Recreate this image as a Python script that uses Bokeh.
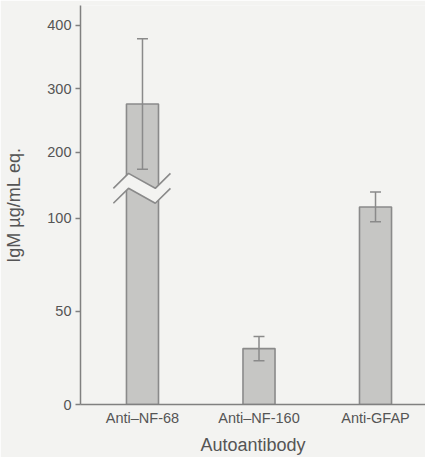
from bokeh.plotting import figure
from bokeh.models import Range1d, FixedTicker, CustomJSTickFormatter
from bokeh.embed import file_html
from bokeh.resources import INLINE

# ---- data ----
categories = ["Anti\u2013NF-68", "Anti\u2013NF-160", "Anti-GFAP"]
igm_mean = [276, 30, 106]
igm_err = [103, 6.5, 8]
y_tick_values = [0, 50, 100, 200, 300, 400]
y_tick_labels = ["0", "50", "100", "200", "300", "400"]

# ---- broken-axis scale ----
LOW_MAX = 115.0      # top of lower segment (data units)
HIGH_MIN = 140.0     # bottom of upper segment (data units)
HIGH_SLOPE = 0.34    # compression of the upper segment
Y_TOP = 214.1


def warp(v):
    if v <= LOW_MAX:
        return float(v)
    return LOW_MAX + (v - HIGH_MIN) * HIGH_SLOPE


BG = "#f3f3f1"
BAR_FILL = "#c6c6c4"
BAR_LINE = "#8a8a8a"
AXIS = "#808080"
TXT = "#555555"
FONT = "Liberation Sans"

xs = [i + 1 for i in range(len(categories))]
tops = [warp(v) for v in igm_mean]
upper = [warp(m + e) for m, e in zip(igm_mean, igm_err)]
lower = [warp(m - e) for m, e in zip(igm_mean, igm_err)]

p = figure(width=425, height=457,
           x_range=Range1d(0.468, 3.429), y_range=Range1d(0, Y_TOP),
           output_backend="svg", toolbar_location=None,
           min_border_left=80, min_border_right=0,
           min_border_top=5, min_border_bottom=52)
p.background_fill_color = BG
p.border_fill_color = BG
p.outline_line_color = None
p.xgrid.grid_line_color = None
p.ygrid.grid_line_color = None

# bars
p.vbar(x=xs, width=0.275, top=tops, bottom=0,
       fill_color=BAR_FILL, line_color=BAR_LINE, line_width=1.6)

# axis break across bars that exceed the lower segment
dx = [-0.25, -0.12, 0.11, 0.24]
amp = [0, 8, 0, 8]
for x, m in zip(xs, igm_mean):
    if m > LOW_MAX:
        ux = [x + d for d in dx]
        uy = [LOW_MAX + 1 + a for a in amp]
        ly = [LOW_MAX - 7 + a for a in amp]
        p.patch(ux + ux[::-1], uy + ly[::-1], fill_color=BG, line_color=None)
        p.line(ux, uy, line_color=BAR_LINE, line_width=1.6)
        p.line(ux, ly, line_color=BAR_LINE, line_width=1.6)

# error bars
cap = 0.047
p.segment(x0=xs, y0=lower, x1=xs, y1=upper, line_color=BAR_LINE, line_width=1.5)
p.segment(x0=[x - cap for x in xs], y0=upper, x1=[x + cap for x in xs], y1=upper,
          line_color=BAR_LINE, line_width=1.5)
p.segment(x0=[x - cap for x in xs], y0=lower, x1=[x + cap for x in xs], y1=lower,
          line_color=BAR_LINE, line_width=1.5)

# x axis
xa = p.xaxis[0]
xa.ticker = FixedTicker(ticks=xs)
xa.major_label_overrides = {x: c for x, c in zip(xs, categories)}
xa.major_tick_line_color = None
xa.major_tick_out = 0
xa.major_tick_in = 0
xa.minor_tick_line_color = None
xa.axis_line_color = AXIS
xa.axis_line_width = 1.5
xa.major_label_standoff = 5
xa.major_label_text_font = FONT
xa.major_label_text_font_size = "14.5px"
xa.major_label_text_color = TXT
xa.axis_label = "Autoantibody"
xa.axis_label_text_font = FONT
xa.axis_label_text_font_size = "18px"
xa.axis_label_text_font_style = "normal"
xa.axis_label_text_color = TXT
xa.axis_label_standoff = 6

# y axis
tick_pos = [warp(v) for v in y_tick_values]
ya = p.yaxis[0]
ya.ticker = FixedTicker(ticks=tick_pos)
ya.formatter = CustomJSTickFormatter(args=dict(pos=tick_pos, labels=y_tick_labels), code="""
let best = 0;
for (let i = 0; i < pos.length; i++) {
  if (Math.abs(pos[i] - tick) < Math.abs(pos[best] - tick)) best = i;
}
return labels[best];
""")
ya.major_tick_out = 5
ya.major_tick_in = 0
ya.major_tick_line_color = AXIS
ya.major_tick_line_width = 1.3
ya.minor_tick_line_color = None
ya.axis_line_color = AXIS
ya.axis_line_width = 1.5
ya.major_label_standoff = 4
ya.major_label_text_font = FONT
ya.major_label_text_font_size = "14.5px"
ya.major_label_text_color = TXT
ya.axis_label = "IgM \u00b5g/mL eq."
ya.axis_label_text_font = FONT
ya.axis_label_text_font_size = "18px"
ya.axis_label_text_font_style = "normal"
ya.axis_label_text_color = TXT
ya.axis_label_standoff = 20

open("out.html", "w").write(file_html(p, INLINE))
